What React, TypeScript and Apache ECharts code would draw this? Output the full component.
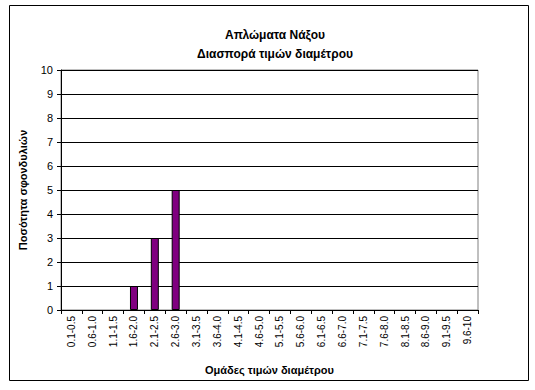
import React, { useEffect, useRef } from "react";
import * as echarts from "echarts";

const categories = [
  "0.1-0.5", "0.6-1.0", "1.1-1.5", "1.6-2.0", "2.1-2.5", "2.6-3.0", "3.1-3.5",
  "3.6-4.0", "4.1-4.5", "4.6-5.0", "5.1-5.5", "5.6-6.0", "6.1-6.5", "6.6-7.0",
  "7.1-7.5", "7.6-8.0", "8.1-8.5", "8.6-9.0", "9.1-9.5", "9.6-10",
];
const counts = [0, 0, 0, 1, 3, 5, 0, 0, 0, 0, 0, 0, 0, 0, 0, 0, 0, 0, 0, 0];
const titleLines = ["Απλώματα Νάξου", "Διασπορά τιμών διαμέτρου"];
const xName = "Ομάδες τιμών διαμέτρου";
const yName = "Ποσότητα σφονδυλιών";

const FONT = "'Liberation Sans', Arial, sans-serif";

export default function App() {
  const ref = useRef<HTMLDivElement>(null);
  useEffect(() => {
    if (!ref.current) return;
    const chart = echarts.init(ref.current, null, { renderer: "svg" });
    chart.setOption({
      animation: false,
      backgroundColor: "#ffffff",
      textStyle: { fontFamily: FONT },
      title: {
        text: titleLines.join("\n"),
        left: 270,
        textAlign: "center",
        top: 20,
        textStyle: { fontSize: 12, fontWeight: "bold", color: "#000", lineHeight: 19, fontFamily: FONT },
      },
      graphic: [
        {
          type: "rect",
          shape: { x: 9.5, y: 5.5, width: 519, height: 375 },
          style: { fill: "none", stroke: "#000", lineWidth: 1 },
          silent: true,
        },
      ],
      grid: {
        left: 61,
        top: 70,
        width: 417,
        height: 240,
        show: true,
        borderColor: "#808080",
        borderWidth: 1,
        backgroundColor: "#fff",
      },
      xAxis: {
        type: "category",
        data: categories,
        name: xName,
        nameLocation: "middle",
        nameGap: 54,
        nameTextStyle: { fontSize: 11, fontWeight: "bold", color: "#000", fontFamily: FONT },
        axisLine: { lineStyle: { color: "#000", width: 1 } },
        axisTick: { show: true, alignWithLabel: false, length: 4, lineStyle: { color: "#000" } },
        axisLabel: { rotate: 90, fontSize: 10, color: "#000", margin: 6, interval: 0, fontFamily: FONT },
        splitLine: { show: false },
      },
      yAxis: {
        type: "value",
        min: 0,
        max: 10,
        interval: 1,
        name: yName,
        nameLocation: "middle",
        nameGap: 33,
        nameRotate: 90,
        nameTextStyle: { fontSize: 11, fontWeight: "bold", color: "#000", fontFamily: FONT },
        axisLine: { show: true, lineStyle: { color: "#000", width: 1 } },
        axisTick: { show: true, length: 4, lineStyle: { color: "#000" } },
        axisLabel: { fontSize: 11, color: "#000", margin: 8, fontFamily: FONT },
        splitLine: { show: true, lineStyle: { color: "#000", width: 1 } },
      },
      series: [
        {
          type: "bar",
          data: counts.map((v) => (v === 0 ? "-" : v)),
          barWidth: 8,
          itemStyle: { color: "#800080", borderColor: "#000", borderWidth: 1 },
        },
      ],
    });
    return () => chart.dispose();
  }, []);
  return (
    <div
      ref={ref}
      style={{ position: "fixed", left: 0, top: 0, width: 535, height: 390 }}
    />
  );
}
